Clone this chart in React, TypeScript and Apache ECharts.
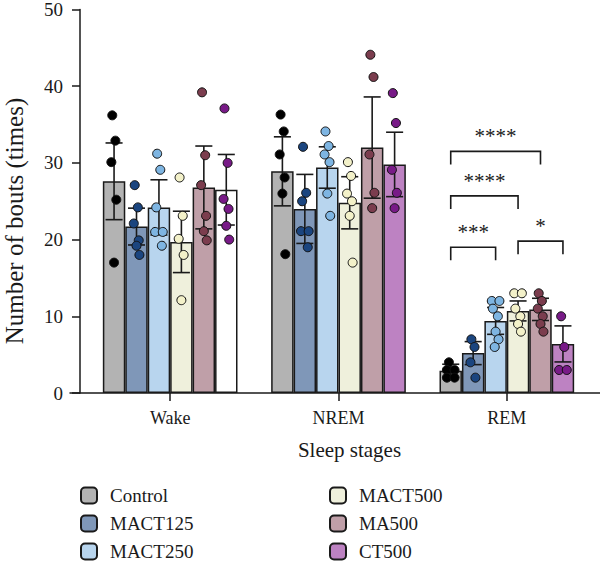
import React, { useEffect, useRef } from 'react';
import * as echarts from 'echarts';

// ---------- data ----------
const categories = ['Wake', 'NREM', 'REM'];
const groups = ['Control', 'MACT125', 'MACT250', 'MACT500', 'MA500', 'CT500'];
const yTicks = [0, 10, 20, 30, 40, 50];

// bar heights (mean) per group: [Wake, NREM, REM]
const controlMean = [27.6, 28.9, 2.9];
const mact125Mean = [21.7, 24.0, 5.2];
const mact250Mean = [24.2, 29.4, 9.4];
const mact500Mean = [19.7, 24.8, 10.7];
const ma500Mean = [26.8, 32.0, 10.9];
const ct500Mean = [26.5, 29.8, 6.4];

// error bar half-lengths per group: [Wake, NREM, REM]
const controlErr = [5.0, 4.5, 0.85];
const mact125Err = [2.4, 4.5, 1.5];
const mact250Err = [3.6, 2.7, 1.75];
const mact500Err = [4.0, 3.4, 1.3];
const ma500Err = [5.4, 6.6, 1.45];
const ct500Err = [4.6, 4.2, 2.35];

// individual points per group: [Wake, NREM, REM]
const controlDots = [
  [36.2, 32.9, 30.1, 25.2, 17.0],
  [36.3, 34.1, 31.1, 28.1, 26.0, 18.1],
  [4, 3, 3, 2, 2],
];
const mact125Dots = [
  [27.1, 24.2, 22.1, 19.9, 19.2, 18.0],
  [32.1, 26.1, 25.0, 21.1, 21.1, 19.0],
  [7, 6, 4, 2],
];
const mact250Dots = [
  [31.2, 29.1, 24.2, 21.0, 21.0, 19.2],
  [34.1, 32.2, 31.1, 30.1, 26.0, 23.1],
  [12, 12, 11, 10, 8, 7, 6],
];
const mact500Dots = [
  [28.1, 23.1, 20.1, 18.0, 12.1],
  [30.1, 28.3, 26.0, 25.0, 23.1, 17.0],
  [13, 13, 11, 10, 9, 8],
];
const ma500Dots = [
  [39.2, 31.0, 27.1, 23.1, 21.1, 19.9],
  [44.1, 41.2, 31.1, 26.1, 24.1],
  [13, 12, 11, 10, 9, 8],
];
const ct500Dots = [
  [37.1, 30.0, 25.3, 24.0, 21.8, 20.0],
  [39.1, 35.2, 29.1, 26.1, 24.1],
  [10, 6, 3, 3],
];

// significance brackets (REM)
const sigCategory = ['REM', 'REM', 'REM', 'REM'];
const sigFrom = ['Control', 'Control', 'Control', 'MACT500'];
const sigTo = ['MA500', 'MACT500', 'MACT250', 'CT500'];
const sigLevel = [31.5, 25.7, 19.0, 19.8];
const sigLabel = ['****', '****', '***', '*'];

// ---------- styles ----------
const barColors = ['#b3b3b3', '#7f97b8', '#b8d5ee', '#eff0dc', '#bf9fa8', '#bd82c2'];
const dotColors = ['#000000', '#1b457f', '#7eb5e2', '#f3f1c9', '#7b3d4e', '#781a87'];
const whiteBar = { group: 'CT500', category: 'Wake' };
const FONT = 'Liberation Serif';
const INK = '#1a1a1a';
const GROUP_FRAC = 0.8; // = 1 - barCategoryGap

const means = [controlMean, mact125Mean, mact250Mean, mact500Mean, ma500Mean, ct500Mean];
const errs = [controlErr, mact125Err, mact250Err, mact500Err, ma500Err, ct500Err];
const dots = [controlDots, mact125Dots, mact250Dots, mact500Dots, ma500Dots, ct500Dots];

const jitter = [-0.08, 0.06, -0.12, 0.1, 0.0, 0.13, -0.04];

export default function App() {
  const ref = useRef<HTMLDivElement>(null);

  useEffect(() => {
    if (!ref.current) return;
    const chart = echarts.init(ref.current, undefined, { renderer: 'svg' });

    const barSeries = groups.map((g, gi) => ({
      name: g,
      type: 'bar',
      xAxisIndex: 0,
      yAxisIndex: 0,
      barGap: '0%',
      barCategoryGap: '20%',
      itemStyle: { color: barColors[gi], borderColor: INK, borderWidth: 1.5 },
      data: means[gi].map((v, ci) =>
        g === whiteBar.group && categories[ci] === whiteBar.category
          ? { value: v, itemStyle: { color: '#ffffff' } }
          : v
      ),
      z: 2,
    }));

    const overlayData: number[][] = [];
    categories.forEach((_, ci) => {
      groups.forEach((_, gi) => {
        overlayData.push([ci, means[gi][ci], gi]);
      });
    });

    const overlaySeries = {
      name: 'points',
      type: 'custom',
      xAxisIndex: 0,
      yAxisIndex: 0,
      z: 5,
      encode: { x: 0, y: 1 },
      data: overlayData,
      renderItem: (params: any, api: any) => {
        const ci = api.value(0);
        const mean = api.value(1);
        const gi = api.value(2);
        const catW = api.size([1, 0])[0];
        const bw = (catW * GROUP_FRAC) / groups.length;
        const cx = api.coord([ci, 0])[0] + (gi - (groups.length - 1) / 2) * bw;
        const e = errs[gi][ci];
        const yTop = api.coord([ci, mean + e])[1];
        const yBot = api.coord([ci, mean - e])[1];
        const capHalf = bw * 0.38;
        const lineStyle = { stroke: INK, lineWidth: 1.6 };
        const children: any[] = [
          { type: 'line', shape: { x1: cx, y1: yTop, x2: cx, y2: yBot }, style: lineStyle },
          { type: 'line', shape: { x1: cx - capHalf, y1: yTop, x2: cx + capHalf, y2: yTop }, style: lineStyle },
          { type: 'line', shape: { x1: cx - capHalf, y1: yBot, x2: cx + capHalf, y2: yBot }, style: lineStyle },
        ];
        const pts = dots[gi][ci];
        const offs = pts.map((_, j) => jitter[j % jitter.length] * bw);
        for (let j = 1; j < pts.length; j++) {
          if (pts[j] === pts[j - 1]) {
            offs[j - 1] = -0.17 * bw;
            offs[j] = 0.17 * bw;
          }
        }
        pts.forEach((v, j) => {
          const y = api.coord([ci, v])[1];
          children.push({
            type: 'circle',
            shape: { cx: cx + offs[j], cy: y, r: 4.5 },
            style: { fill: dotColors[gi], stroke: '#111', lineWidth: 1 },
          });
        });
        return { type: 'group', children };
      },
    };

    const bracketData = sigLabel.map((_, i) => [
      categories.indexOf(sigCategory[i]),
      sigLevel[i],
      groups.indexOf(sigFrom[i]),
      groups.indexOf(sigTo[i]),
    ]);

    const bracketSeries = {
      name: 'significance',
      type: 'custom',
      xAxisIndex: 0,
      yAxisIndex: 0,
      z: 6,
      encode: { x: 0, y: 1 },
      data: bracketData,
      renderItem: (params: any, api: any) => {
        const ci = api.value(0);
        const lvl = api.value(1);
        const a = api.value(2);
        const b = api.value(3);
        const catW = api.size([1, 0])[0];
        const bw = (catW * GROUP_FRAC) / groups.length;
        const c0 = api.coord([ci, lvl]);
        const mid = (groups.length - 1) / 2;
        const x1 = c0[0] + (a - mid) * bw;
        const x2 = c0[0] + (b - mid) * bw;
        const y = c0[1];
        const drop = 13;
        return {
          type: 'group',
          children: [
            {
              type: 'polyline',
              shape: { points: [[x1, y + drop], [x1, y], [x2, y], [x2, y + drop]] },
              style: { stroke: INK, lineWidth: 1.6, fill: 'none' },
            },
            {
              type: 'text',
              x: (x1 + x2) / 2,
              y: y - 15,
              style: {
                text: sigLabel[params.dataIndex],
                fontSize: 21,
                fontFamily: FONT,
                fill: INK,
                align: 'center',
                verticalAlign: 'middle',
              },
            },
          ],
        };
      },
    };

    const legendCommon = {
      orient: 'vertical',
      itemWidth: 16,
      itemHeight: 16,
      itemGap: 9,
      padding: 0,
      height: 76,
      selectedMode: false,
      textStyle: {
        fontFamily: FONT,
        fontSize: 19,
        color: INK,
        padding: [0, 0, 0, 8],
      },
    };

    chart.setOption({
      animation: false,
      backgroundColor: '#ffffff',
      grid: [
        { left: 86, right: 9, top: 7, bottom: 171, containLabel: false },
        { left: 70, right: 0, top: 7, bottom: 171, containLabel: false },
      ],
      legend: [
        { ...legendCommon, left: 80, top: 486, data: groups.slice(0, 3) },
        { ...legendCommon, left: 329, top: 486, data: groups.slice(3) },
      ],
      xAxis: [
        {
          type: 'category',
          gridIndex: 0,
          data: categories,
          axisLine: { show: false },
          axisTick: { show: true, alignWithLabel: true, length: 8, lineStyle: { color: INK, width: 1.5 } },
          axisLabel: { fontFamily: FONT, fontSize: 18, color: INK, margin: 16 },
          name: 'Sleep stages',
          nameLocation: 'middle',
          nameGap: 46,
          nameTextStyle: { fontFamily: FONT, fontSize: 21, color: INK, padding: [0, 0, 0, 22] },
        },
        {
          type: 'value',
          gridIndex: 1,
          min: 0,
          max: 1,
          axisLine: { show: true, lineStyle: { color: INK, width: 1.5 } },
          axisTick: { show: false },
          axisLabel: { show: false },
          splitLine: { show: false },
        },
      ],
      yAxis: [
        {
          type: 'value',
          gridIndex: 0,
          min: yTicks[0],
          max: yTicks[yTicks.length - 1],
          interval: yTicks[1] - yTicks[0],
          offset: 6,
          axisLine: { show: true, lineStyle: { color: INK, width: 1.5 } },
          axisTick: { show: true, length: 8, lineStyle: { color: INK, width: 1.5 } },
          axisLabel: { fontFamily: FONT, fontSize: 19, color: INK, margin: 17 },
          splitLine: { show: false },
        },
        { type: 'value', gridIndex: 1, show: false, min: 0, max: 1 },
      ],
      graphic: [
        {
          type: 'text',
          x: 14,
          y: 221,
          rotation: Math.PI / 2,
          style: {
            text: 'Number of bouts (times)',
            fontFamily: FONT,
            fontSize: 25,
            fill: INK,
            align: 'center',
            verticalAlign: 'middle',
          },
        },
      ],
      series: [...barSeries, overlaySeries, bracketSeries],
    });

    return () => chart.dispose();
  }, []);

  return (
    <div
      ref={ref}
      style={{ position: 'fixed', left: 0, top: 0, width: 600, height: 564, background: '#fff' }}
    />
  );
}
